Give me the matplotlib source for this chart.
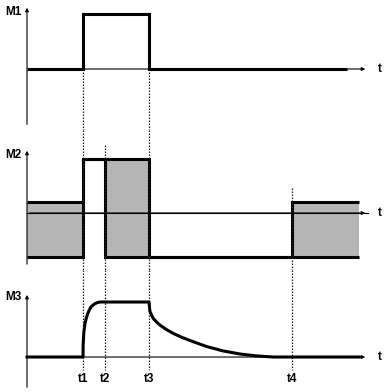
import matplotlib.pyplot as plt
import numpy as np

plt.rcParams['font.family'] = ['Liberation Sans', 'DejaVu Sans']

# tiempos marcados
t_names = ['t1', 't2', 't3', 't4']
t_vals = [2.0, 2.78, 4.36, 9.46]
t1, t2, t3, t4 = t_vals
t_fin1 = 11.43
t_fin = 11.86

# M1: pulso
m1_edges = [0, t1, t3, t_fin1]
m1_vals = [0, 1, 0]

# M2: banda (envolvente superior / inferior)
m2_edges = [0, t1, t2, t3, t4, t_fin]
m2_sup = [0.204, 1.0, 1.0, -0.815, 0.204]
m2_inf = [-0.815, 1.0, -0.815, -0.815, -0.815]

# M3: carga y descarga
m3_t = [0, 2.0, 2.004, 2.03, 2.071, 2.12, 2.168, 2.23, 2.286, 2.36, 2.429, 2.52, 2.607, 2.78, 4.36,
        4.375, 4.39, 4.45, 4.51, 4.62, 4.75, 4.98, 5.22, 5.52, 5.82, 6.42, 7.01, 7.61, 8.20, 8.80, t_fin]
m3_v = [0, 0, 0.22, 0.45, 0.61, 0.71, 0.79, 0.86, 0.91, 0.945, 0.97, 0.99, 1.0, 1.0, 1.0,
        0.90, 0.83, 0.76, 0.70, 0.64, 0.58, 0.50, 0.43, 0.36, 0.30, 0.19, 0.11, 0.055, 0.02, 0.0, 0.0]

xlim = (-27 / 28, 358 / 28)
grueso = 2.2
fino = 0.8
gris = '#b5b5b5'

fig = plt.figure(figsize=(3.85, 3.92), dpi=100)
ax1 = fig.add_axes([0, 262 / 392, 1, 130 / 392])
ax2 = fig.add_axes([0, 122 / 392, 1, 140 / 392])
ax3 = fig.add_axes([0, 0, 1, 122 / 392])
ax1.set_ylim(-1.109, 1.2545)
ax2.set_ylim(-1.056, 1.537)
ax3.set_ylim(-0.636, 1.582)

def ejes(ax, nombre, ytop, ybot, ylab):
    ax.set_xlim(*xlim)
    ax.axis('off')
    ax.annotate('', xy=(0, ytop), xytext=(0, ybot),
                arrowprops=dict(arrowstyle='-|>', lw=fino, color='black', mutation_scale=5))
    ax.annotate('', xy=(12.18, 0), xytext=(0, 0),
                arrowprops=dict(arrowstyle='-|>', lw=fino, color='black', mutation_scale=5))
    ax.text(12.6, 0, 't', fontsize=8.5, fontweight='bold', ha='center', va='center')
    ax.text(-0.5, ylab, nombre, fontsize=8.5, fontweight='bold', ha='center', va='center')

ejes(ax1, 'M1', 1.164, -1.055, 1.036)
ejes(ax2, 'M2', 1.204, -1.0, 1.07)
ejes(ax3, 'M3', 1.18, -0.6, 1.09)

# lineas punteadas
dot = dict(color='#222222', lw=0.9, linestyle=(0, (1.2, 1.2)))
for t in [t1, t3]:
    ax1.plot([t, t], [0, -1.109], **dot)
    ax2.plot([t, t], [1.537, -1.056], **dot)
ax2.plot([t2, t2], [1.26, -1.056], **dot)
ax2.plot([t4, t4], [0.463, -1.056], **dot)
for nombre, t in zip(t_names, t_vals):
    ax3.plot([t, t], [1.582, -0.236], **dot)
    ax3.text(t, -0.40, nombre, fontsize=8.5, fontweight='bold', ha='center', va='center')

# M1
ax1.stairs(m1_vals, m1_edges, baseline=None, color='black', lw=grueso)

# M2
ax2.fill_between(m2_edges, m2_sup + [m2_sup[-1]], m2_inf + [m2_inf[-1]],
                 step='post', color=gris, lw=0)
ax2.plot([0, 12.18], [0, 0], color='black', lw=fino)
ax2.stairs(m2_sup, m2_edges, baseline=None, color='black', lw=grueso)
ax2.stairs(m2_inf, m2_edges, baseline=None, color='black', lw=grueso)

# M3
ax3.plot(m3_t, m3_v, color='black', lw=grueso, solid_joinstyle='round')

fig.savefig('out.png', dpi=100)
